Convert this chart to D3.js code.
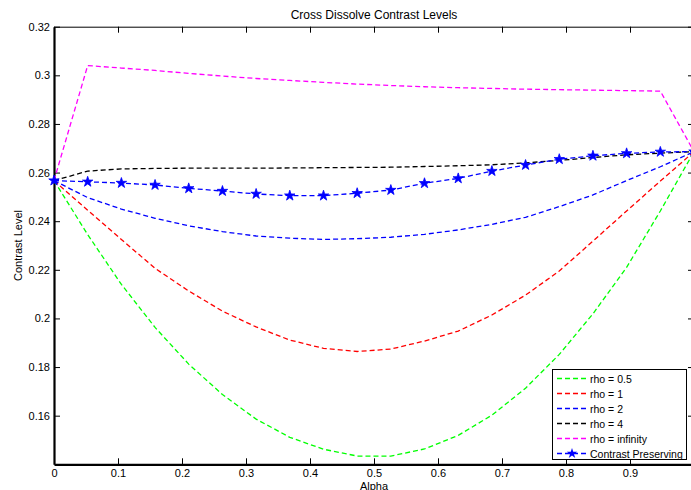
<!DOCTYPE html>
<html>
<head>
<meta charset="utf-8">
<script src="https://cdn.jsdelivr.net/npm/d3@7"></script>
<style>
  html, body { margin: 0; padding: 0; background: #fff; overflow: hidden; }
  svg { display: block; font-family: "Liberation Sans", Arial, sans-serif; }
</style>
</head>
<body>
<div id="graphicContainer"></div>
<script>
// alpha samples, 20 steps from 0 to 1
var alphaSteps = [0, 0.0526, 0.1053, 0.1579, 0.2105, 0.2632, 0.3158, 0.3684, 0.4211, 0.4737,
                  0.5263, 0.5789, 0.6316, 0.6842, 0.7368, 0.7895, 0.8421, 0.8947, 0.9474, 1];

var rhoHalf  = [0.2567, 0.2345, 0.2140, 0.1963, 0.1812, 0.1687, 0.1586, 0.1511, 0.1462, 0.1434,
                0.1434, 0.1463, 0.1519, 0.1602, 0.1713, 0.1852, 0.2019, 0.2210, 0.2442, 0.2686];
var rhoOne   = [0.2567, 0.2445, 0.2325, 0.2206, 0.2113, 0.2030, 0.1965, 0.1911, 0.1877, 0.1864,
                0.1874, 0.1907, 0.1948, 0.2014, 0.2096, 0.2195, 0.2318, 0.2442, 0.2565, 0.2686];
var rhoTwo   = [0.2567, 0.2497, 0.2450, 0.2412, 0.2381, 0.2357, 0.2339, 0.2330, 0.2325, 0.2328,
                0.2334, 0.2346, 0.2364, 0.2387, 0.2416, 0.2460, 0.2508, 0.2567, 0.2624, 0.2686];
var rhoFour  = [0.2567, 0.2606, 0.2615, 0.2617, 0.2618, 0.2618, 0.2618, 0.2619, 0.2620, 0.2621,
                0.2622, 0.2625, 0.2628, 0.2632, 0.2640, 0.2650, 0.2662, 0.2673, 0.2680, 0.2686];
var rhoInf   = [0.2567, 0.3040, 0.3030, 0.3020, 0.3008, 0.2997, 0.2987, 0.2979, 0.2971, 0.2964,
                0.2958, 0.2953, 0.2949, 0.2946, 0.2943, 0.2941, 0.2939, 0.2937, 0.2935, 0.2686];
var preserving = [0.2567, 0.2562, 0.2557, 0.2549, 0.2535, 0.2524, 0.2512, 0.2505, 0.2505, 0.2515,
                  0.2528, 0.2556, 0.2576, 0.2606, 0.2631, 0.2655, 0.2669, 0.2679, 0.2685, 0.2686];

var seriesNames  = ["rho = 0.5", "rho = 1", "rho = 2", "rho = 4", "rho = infinity", "Contrast Preserving"];
var seriesValues = [rhoHalf, rhoOne, rhoTwo, rhoFour, rhoInf, preserving];
var seriesColors = ["#00ff00", "#ff0000", "#0000ff", "#000000", "#ff00ff", "#0000ff"];
var seriesMarker = [false, false, false, false, false, true];

var xTicks = [0, 0.1, 0.2, 0.3, 0.4, 0.5, 0.6, 0.7, 0.8, 0.9, 1];
var yTicks = [0.16, 0.18, 0.2, 0.22, 0.24, 0.26, 0.28, 0.3, 0.32];

function makeChart() {
    var width = 691, height = 490;
    var margin = {top: 26.7, right: -3, bottom: 25.7, left: 54};
    var plotW = width - margin.left - margin.right;
    var plotH = height - margin.top - margin.bottom;

    d3.select("#graphicContainer svg").remove();

    var svg = d3.select("#graphicContainer").append("svg")
        .attr("width", width)
        .attr("height", height);

    var x = d3.scaleLinear().domain([0, 1]).range([margin.left, margin.left + plotW]);
    var y = d3.scaleLinear().domain([0.14, 0.32]).range([margin.top + plotH, margin.top]);

    var fmt = function(d) { return String(+d.toFixed(2)); };
    // the "1" label falls past the right edge of the window, so it is left blank
    var xFmt = function(d) { return d >= 1 ? "" : fmt(d); };

    // title + axis labels
    svg.append("text")
        .attr("x", x(0.5)).attr("y", 19)
        .attr("text-anchor", "middle")
        .attr("font-size", 12)
        .text("Cross Dissolve Contrast Levels");

    svg.append("text")
        .attr("transform", "translate(22," + y(0.23) + ") rotate(-90)")
        .attr("text-anchor", "middle")
        .attr("font-size", 11)
        .text("Contrast Level");

    svg.append("text")
        .attr("x", x(0.5)).attr("y", 490)
        .attr("text-anchor", "middle")
        .attr("font-size", 11)
        .text("Alpha");

    // axes, ticks pointing inwards like matlab
    var bottom = svg.append("g")
        .attr("transform", "translate(0," + y(0.14) + ")")
        .call(d3.axisBottom(x).tickValues(xTicks).tickFormat(xFmt)
            .tickSizeInner(-6).tickSizeOuter(0).tickPadding(5));
    var top = svg.append("g")
        .attr("transform", "translate(0," + y(0.32) + ")")
        .call(d3.axisTop(x).tickValues(xTicks).tickFormat("")
            .tickSizeInner(-6).tickSizeOuter(0));
    var left = svg.append("g")
        .attr("transform", "translate(" + x(0) + ",0)")
        .call(d3.axisLeft(y).tickValues(yTicks).tickFormat(fmt)
            .tickSizeInner(-6).tickSizeOuter(0).tickPadding(4));
    var right = svg.append("g")
        .attr("transform", "translate(" + x(1) + ",0)")
        .call(d3.axisRight(y).tickValues(yTicks).tickFormat("")
            .tickSizeInner(-6).tickSizeOuter(0));

    [bottom, top, left, right].forEach(function(g) {
        g.selectAll("text").attr("font-size", 11).attr("font-family", "Liberation Sans, Arial, sans-serif").attr("fill", "#000");
        g.selectAll("line").attr("stroke", "#000");
        g.select(".domain").attr("stroke", "#000");
    });
    bottom.select(".domain").attr("stroke-width", 2.2);
    left.select(".domain").attr("stroke-width", 2.2);

    var line = d3.line()
        .x(function(d, i) { return x(alphaSteps[i]); })
        .y(function(d) { return y(d); });

    seriesValues.forEach(function(vals, k) {
        svg.append("path")
            .attr("fill", "none")
            .attr("stroke", seriesColors[k])
            .attr("stroke-width", 1.3)
            .attr("stroke-dasharray", "5,3")
            .attr("d", line(vals));
        if (seriesMarker[k]) {
            svg.selectAll(".star")
                .data(vals)
                .enter().append("path")
                .attr("class", "star")
                .attr("transform", function(d, i) { return "translate(" + x(alphaSteps[i]) + "," + y(d) + ")"; })
                .attr("d", d3.symbol(d3.symbolStar).size(34))
                .attr("fill", seriesColors[k])
                .attr("stroke", seriesColors[k])
                .attr("stroke-width", 0.8);
        }
    });

    // legend
    var lg = svg.append("g");
    lg.append("rect")
        .attr("x", 552.5).attr("y", 369.5)
        .attr("width", 134).attr("height", 90)
        .attr("fill", "#fff").attr("stroke", "#000").attr("stroke-width", 1);

    seriesNames.forEach(function(name, k) {
        var ry = 378.5 + k * 15;
        lg.append("line")
            .attr("x1", 557).attr("x2", 587)
            .attr("y1", ry).attr("y2", ry)
            .attr("stroke", seriesColors[k])
            .attr("stroke-width", 1.3)
            .attr("stroke-dasharray", "5,3");
        if (seriesMarker[k]) {
            lg.append("path")
                .attr("transform", "translate(572," + ry + ")")
                .attr("d", d3.symbol(d3.symbolStar).size(34))
                .attr("fill", seriesColors[k]);
        }
        lg.append("text")
            .attr("x", 590).attr("y", ry + 4)
            .attr("font-size", 10.5)
            .text(name);
    });
}

makeChart();
</script>
</body>
</html>
